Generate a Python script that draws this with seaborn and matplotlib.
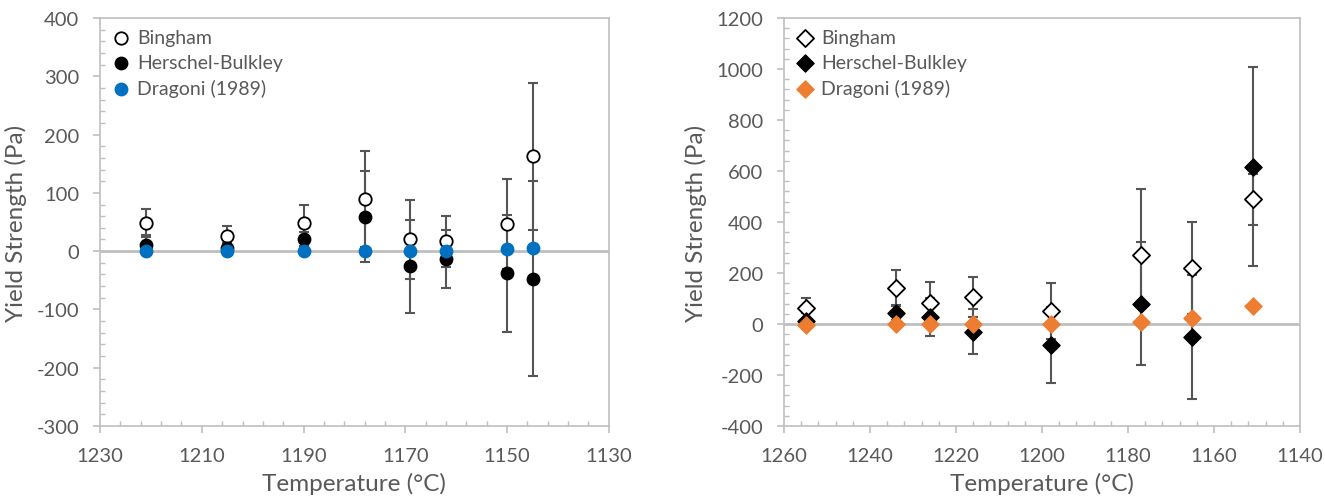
import numpy as np
import pandas as pd
import matplotlib
matplotlib.use("Agg")
import matplotlib.pyplot as plt
from matplotlib.ticker import MultipleLocator, FixedLocator
import seaborn as sns

# Left panel: temperatures and yield strengths (Pa)
temp_a = [1221, 1205, 1190, 1178, 1169, 1162, 1150, 1145]
bingham_a = [49, 26, 49, 89, 20, 17, 47, 163]
bingham_a_err = [24, 17, 30, 82, 67, 44, 77, 126]
hb_a = [11, 6, 21, 59, -26, -14, -38, -47]
hb_a_err = [17, 8, 12, 78, 80, 50, 100, 167]
dragoni_a = [0, 0, 0, 0, 1, 1, 3, 5]

# Right panel
temp_b = [1255, 1234, 1226, 1216, 1198, 1177, 1165, 1151]
bingham_b = [63, 141, 84, 107, 52, 270, 220, 490]
bingham_b_err = [40, 70, 80, 79, 109, 261, 182, 100]
hb_b = [12, 45, 27, -30, -84, 80, -51, 616]
hb_b_err = [33, 30, 74, 88, 149, 242, 245, 390]
dragoni_b = [-2, 0, 0, 0, 0, 8, 25, 72]

labels = ["Bingham", "Herschel-Bulkley", "Dragoni (1989)"]

sns.set_theme(style="white")
plt.rcParams["font.family"] = ["Lato", "DejaVu Sans"]
plt.rcParams["axes.unicode_minus"] = False

TXT = "#595959"
GRID = "#BFBFBF"
ERR = "#555555"

fig = plt.figure(figsize=(13.25, 5.02), dpi=100)
ax1 = fig.add_axes([0.0755, 0.1494, 0.384, 0.8127])
ax2 = fig.add_axes([0.5917, 0.1494, 0.3894, 0.8127])


def draw_panel(ax, temp, bing, bing_err, hb, hb_err, drag, marker, size, drag_color):
    ax.axhline(0, color=GRID, lw=2, zorder=1)
    ax.errorbar(temp, bing, yerr=bing_err, fmt="none", ecolor=ERR, elinewidth=1.5,
                capsize=3.8, capthick=1.5, zorder=2)
    ax.errorbar(temp, hb, yerr=hb_err, fmt="none", ecolor=ERR, elinewidth=1.5,
                capsize=3.8, capthick=1.5, zorder=2)
    sns.scatterplot(x=temp, y=bing, ax=ax, marker=marker, s=size, color="white",
                    edgecolor="black", linewidth=1.3, label=labels[0], zorder=3)
    sns.scatterplot(x=temp, y=hb, ax=ax, marker=marker, s=size, color="black",
                    edgecolor="black", linewidth=1.0, label=labels[1], zorder=4)
    sns.scatterplot(x=temp, y=drag, ax=ax, marker=marker, s=size, color=drag_color,
                    edgecolor=drag_color, linewidth=1.0, label=labels[2], zorder=5)

    for side in ["top", "bottom", "left", "right"]:
        ax.spines[side].set_visible(True)
        ax.spines[side].set_color(GRID)
        ax.spines[side].set_linewidth(1.2)

    ax.tick_params(axis="both", which="major", direction="out", length=5, width=1.2,
                   color=GRID, labelcolor=TXT, labelsize=14.5, pad=10,
                   bottom=True, left=True)
    ax.tick_params(axis="both", which="minor", direction="in", length=3.5, width=1,
                   color=GRID, bottom=True, left=True)
    ax.set_xlabel("Temperature (°C)", fontsize=17.5, color=TXT, labelpad=6)
    ax.set_ylabel("Yield Strength (Pa)", fontsize=17.5, color=TXT, labelpad=7)

    leg = ax.legend(loc="upper left", frameon=False, fontsize=14, handletextpad=0.25,
                    labelspacing=0.42, borderaxespad=0.2, handlelength=1.1,
                    borderpad=0.35)
    for t in leg.get_texts():
        t.set_color(TXT)


draw_panel(ax1, temp_a, bingham_a, bingham_a_err, hb_a, hb_a_err, dragoni_a,
           "o", 80, "#0070C0")
ax1.set_xlim(1230, 1130)
ax1.set_ylim(-300, 400)
ax1.xaxis.set_major_locator(FixedLocator(np.arange(1130, 1231, 20)))
ax1.xaxis.set_minor_locator(FixedLocator(np.arange(1130, 1231, 4)))
ax1.yaxis.set_major_locator(MultipleLocator(100))
ax1.yaxis.set_minor_locator(MultipleLocator(20))

draw_panel(ax2, temp_b, bingham_b, bingham_b_err, hb_b, hb_b_err, dragoni_b,
           "D", 76, "#ED7D31")
ax2.set_xlim(1260, 1140)
ax2.set_ylim(-400, 1200)
ax2.xaxis.set_major_locator(FixedLocator(np.arange(1140, 1261, 20)))
ax2.xaxis.set_minor_locator(FixedLocator(np.arange(1140, 1261, 4)))
ax2.yaxis.set_major_locator(MultipleLocator(200))
ax2.yaxis.set_minor_locator(MultipleLocator(40))

fig.savefig("out.png", dpi=100)
